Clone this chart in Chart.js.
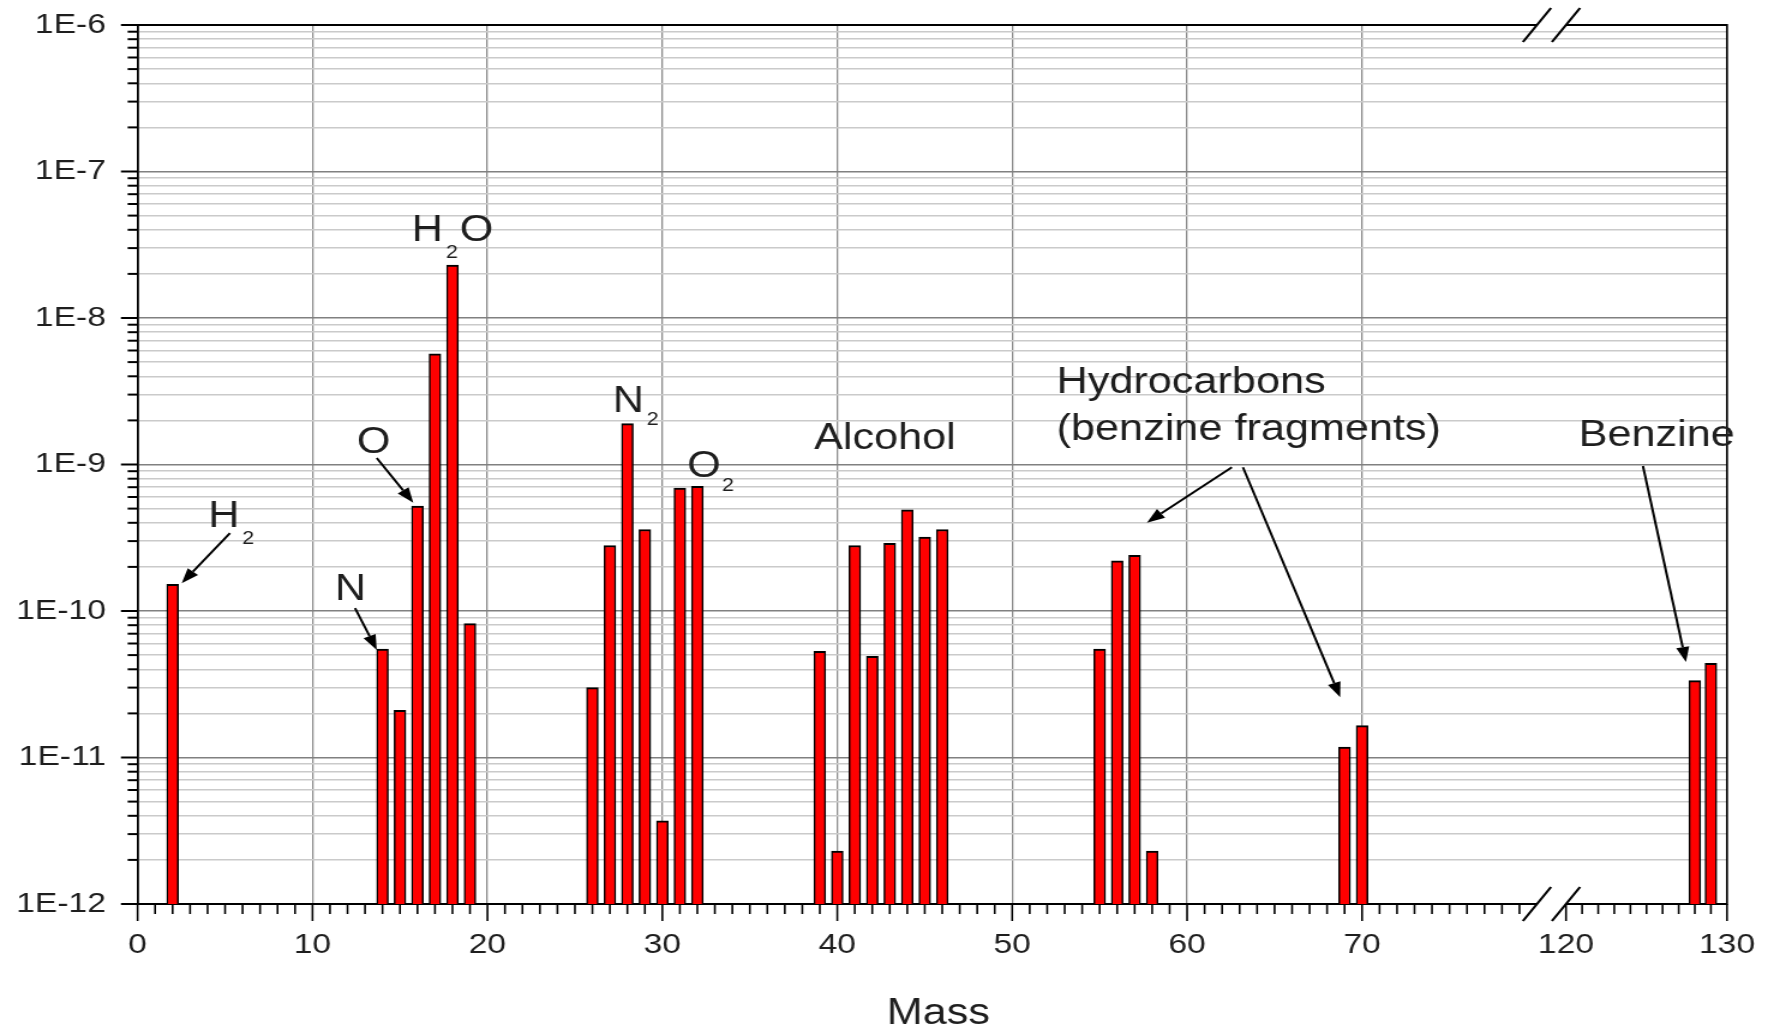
<!DOCTYPE html>
<html>
<head>
<meta charset="utf-8">
<title>Residual gas spectrum</title>
<script src="https://cdn.jsdelivr.net/npm/chart.js@4.4.1/dist/chart.umd.min.js"></script>
<style>
  html, body { margin: 0; padding: 0; background: #fff; overflow: hidden; }
  /* the original picture is stretched sideways, so draw narrow and stretch the canvas */
  #wrap { width: 1473px; height: 1034px; transform: scaleX(1.20027); transform-origin: 0 0; }
</style>
</head>
<body>
<div id="wrap"><canvas id="massChart"></canvas></div>
<script>
/* ================= DATA ================= */
const masses = [2, 14, 15, 16, 17, 18, 19, 26, 27, 28, 29, 30, 31, 32,
  39, 40, 41, 42, 43, 44, 45, 46, 55, 56, 57, 58, 69, 70];
const currents = [1.52e-10, 5.5e-11, 2.1e-11, 5.2e-10, 5.7e-9, 2.3e-8, 8.2e-11,
  3.0e-11, 2.8e-10, 1.9e-9, 3.6e-10, 3.7e-12, 6.9e-10, 7.1e-10,
  5.3e-11, 2.3e-12, 2.8e-10, 4.9e-11, 2.9e-10, 4.9e-10, 3.2e-10, 3.6e-10,
  5.5e-11, 2.2e-10, 2.4e-10, 2.3e-12, 1.18e-11, 1.65e-11];

const heavyMasses = [128, 129];
const heavyCurrents = [3.35e-11, 4.4e-11];

const yDecades = [-12, -11, -10, -9, -8, -7, -6];
const yMinorSteps = [2, 3, 4, 5, 6, 7, 8, 9];
const xLabelTicks = [0, 10, 20, 30, 40, 50, 60, 70, 120, 130];
const breakFrom = 80;
const breakTo = 120;

/* labels: text, mass, log10 of value, font size */
const notes = [
  ["H", 4.04, -9.429, 36], ["2", 5.97, -9.545, 18],
  ["N", 11.27, -9.925, 36],
  ["O", 12.53, -8.924, 36],
  ["H", 15.67, -7.474, 36], ["2", 17.63, -7.590, 18], ["O", 18.41, -7.476, 36],
  ["N", 27.16, -8.640, 36], ["2", 29.11, -8.730, 18],
  ["O", 31.42, -9.083, 36], ["2", 33.40, -9.179, 18],
  ["Alcohol", 38.67, -8.894, 36],
  ["Hydrocarbons", 52.54, -8.514, 36],
  ["(benzine fragments)", 52.54, -8.833, 36],
  ["Benzine", 120.78, -8.874, 36]
];

/* arrows: from mass, from log, to mass, to log */
const arrows = [
  [5.28, -9.468, 2.52, -9.811],
  [12.43, -9.980, 13.67, -10.266],
  [13.67, -8.956, 15.76, -9.261],
  [62.56, -9.019, 57.70, -9.397],
  [63.19, -9.019, 68.75, -10.589],
  [124.78, -9.010, 127.45, -10.348]
];

/* ================= HELPERS ================= */
const FONT = "'Liberation Sans', Arial, sans-serif";
const TEXT = "#1e1e1e";

const yTickValues = [];
yDecades.forEach(e => {
  yTickValues.push(Number("1e" + e));
  if (e < -6) yMinorSteps.forEach(m => yTickValues.push(Number(m + "e" + e)));
});

function isDecade(v) {
  const l = Math.log10(v);
  return Math.abs(l - Math.round(l)) < 1e-9;
}

/* ================= DECORATION ================= */
const decor = {
  id: "decor",
  afterDraw(chart) {
    const { ctx, chartArea: a, scales } = chart;
    const { x, x2, y } = scales;
    const seg = (x1, y1, xb, yb) => {
      ctx.beginPath(); ctx.moveTo(x1, y1); ctx.lineTo(xb, yb); ctx.stroke();
    };
    ctx.save();
    ctx.strokeStyle = "#000";

    /* top and right frame */
    ctx.lineWidth = 2;
    seg(a.left, a.top, a.right, a.top);
    ctx.lineWidth = 1.7;
    seg(a.right, a.top - 1, a.right, a.bottom + 1);

    /* axis break: clear the frame between the slashes */
    const b1 = x.getPixelForValue(breakFrom);
    const b2 = x2.getPixelForValue(breakTo);
    const dx = 11.7, dy = 17, h = 3;
    ctx.fillStyle = "#fff";
    [a.top, a.bottom].forEach(yy => {
      ctx.beginPath();
      ctx.moveTo(b1 - dx * h / dy, yy + h);
      ctx.lineTo(b1 + dx * h / dy, yy - h);
      ctx.lineTo(b2 + dx * h / dy, yy - h);
      ctx.lineTo(b2 - dx * h / dy, yy + h);
      ctx.closePath();
      ctx.fill();
    });

    /* tick marks, long at decades / tens */
    ctx.lineWidth = 2;
    y.ticks.forEach(t => {
      const py = y.getPixelForValue(t.value);
      const len = isDecade(t.value) ? 13.9 : 8.3;
      seg(a.left - len, py, a.left, py);
    });
    ctx.lineWidth = 1.6;
    x.ticks.forEach(t => {
      if (!Number.isInteger(t.value) || t.value >= breakFrom) return;
      const px = x.getPixelForValue(t.value);
      seg(px, a.bottom, px, a.bottom + (t.value % 10 === 0 ? 17 : 10));
    });
    x2.ticks.forEach(t => {
      if (!Number.isInteger(t.value)) return;
      const px = x2.getPixelForValue(t.value);
      seg(px, a.bottom, px, a.bottom + (t.value % 10 === 0 ? 17 : 10));
    });

    /* slashes */
    ctx.lineWidth = 2.2;
    [a.top, a.bottom].forEach(yy => {
      seg(b1 - dx, yy + dy, b1 + dx, yy - dy);
      seg(b2 - dx, yy + dy, b2 + dx, yy - dy);
    });

    /* labels */
    const px = m => (m >= 100 ? x2 : x).getPixelForValue(m);
    const py = e => y.getPixelForValue(Math.pow(10, e));
    ctx.fillStyle = TEXT;
    ctx.textAlign = "left";
    ctx.textBaseline = "alphabetic";
    notes.forEach(([txt, m, e, size]) => {
      ctx.font = size + "px " + FONT;
      ctx.fillText(txt, px(m), py(e));
    });

    /* arrows */
    ctx.strokeStyle = "#000";
    ctx.fillStyle = "#000";
    ctx.lineWidth = 2;
    arrows.forEach(([m1, e1, m2, e2]) => {
      const sx = px(m1), sy = py(e1), ex = px(m2), ey = py(e2);
      const ang = Math.atan2(ey - sy, ex - sx);
      const hl = 15, hw = 5.5;
      const bx = ex - hl * Math.cos(ang), by = ey - hl * Math.sin(ang);
      seg(sx, sy, bx, by);
      ctx.beginPath();
      ctx.moveTo(ex, ey);
      ctx.lineTo(bx + hw * Math.sin(ang), by - hw * Math.cos(ang));
      ctx.lineTo(bx - hw * Math.sin(ang), by + hw * Math.cos(ang));
      ctx.closePath();
      ctx.fill();
    });

    /* axis title */
    ctx.font = "36px " + FONT;
    ctx.textAlign = "center";
    ctx.fillStyle = TEXT;
    ctx.fillText("Mass", (a.left + a.right) / 2 + 5, a.bottom + 120);
    ctx.restore();
  }
};

/* ================= CHART ================= */
const barStyle = {
  backgroundColor: "#ff0000",
  borderColor: "#000",
  borderWidth: { top: 2, left: 1.5, right: 1.5, bottom: 0 },
  barThickness: 9.75,
  grouped: false
};

const tickFont = { family: FONT, size: 28 };

/* fixed axis sizes so the plot box lands where the original one is */
const fitX = s => { s.height = 130; s.paddingLeft = 0; s.paddingRight = 0; };
const fitY = s => { s.width = 114.64; s.paddingTop = 0; s.paddingBottom = 0; };

new Chart(document.getElementById("massChart"), {
  type: "bar",
  data: {
    datasets: [
      Object.assign({ xAxisID: "x", data: masses.map((m, i) => ({ x: m, y: currents[i] })) }, barStyle),
      Object.assign({ xAxisID: "x2", data: heavyMasses.map((m, i) => ({ x: m, y: heavyCurrents[i] })) }, barStyle)
    ]
  },
  options: {
    responsive: true,
    maintainAspectRatio: false,
    animation: false,
    events: [],
    layout: { padding: { top: 25, right: 34.16, bottom: 0, left: 0 } },
    plugins: { legend: { display: false }, tooltip: { enabled: false } },
    scales: {
      x: {
        type: "linear", position: "bottom", stack: "mass", stackWeight: 1190.06,
        min: 0, max: 81.66, offset: false,
        afterFit: fitX,
        grid: {
          offset: false, drawTicks: false, lineWidth: 1.3,
          color: c => (c.tick && c.tick.value > 0 && c.tick.value <= 70 && c.tick.value % 10 === 0)
            ? "#8c8c8c" : "rgba(0,0,0,0)"
        },
        border: { color: "#000", width: 2 },
        ticks: {
          stepSize: 1, autoSkip: false, maxRotation: 0, padding: 24,
          font: tickFont, color: TEXT,
          callback: v => xLabelTicks.includes(v) && v < breakFrom ? String(v) : ""
        }
      },
      x2: {
        type: "linear", position: "bottom", stack: "mass", stackWeight: 134.14,
        min: 120, max: 130, offset: false,
        afterFit: fitX,
        grid: { offset: false, drawTicks: false, color: "rgba(0,0,0,0)" },
        border: { color: "#000", width: 2 },
        ticks: {
          stepSize: 1, autoSkip: false, maxRotation: 0, padding: 24,
          font: tickFont, color: TEXT,
          callback: v => xLabelTicks.includes(v) && v >= breakTo ? String(v) : ""
        }
      },
      y: {
        type: "logarithmic", min: 1e-12, max: 1e-6,
        afterBuildTicks: s => { s.ticks = yTickValues.map(v => ({ value: v })); },
        afterFit: fitY,
        grid: {
          drawTicks: false, lineWidth: 1.5,
          color: c => isDecade(c.tick.value) ? "#808080" : "#cacaca"
        },
        border: { color: "#000", width: 1.8 },
        ticks: {
          autoSkip: false, padding: 26.4,
          font: tickFont, color: TEXT,
          callback: v => isDecade(v) ? "1E" + Math.round(Math.log10(v)) : ""
        }
      }
    }
  },
  plugins: [decor]
});
</script>
</body>
</html>
